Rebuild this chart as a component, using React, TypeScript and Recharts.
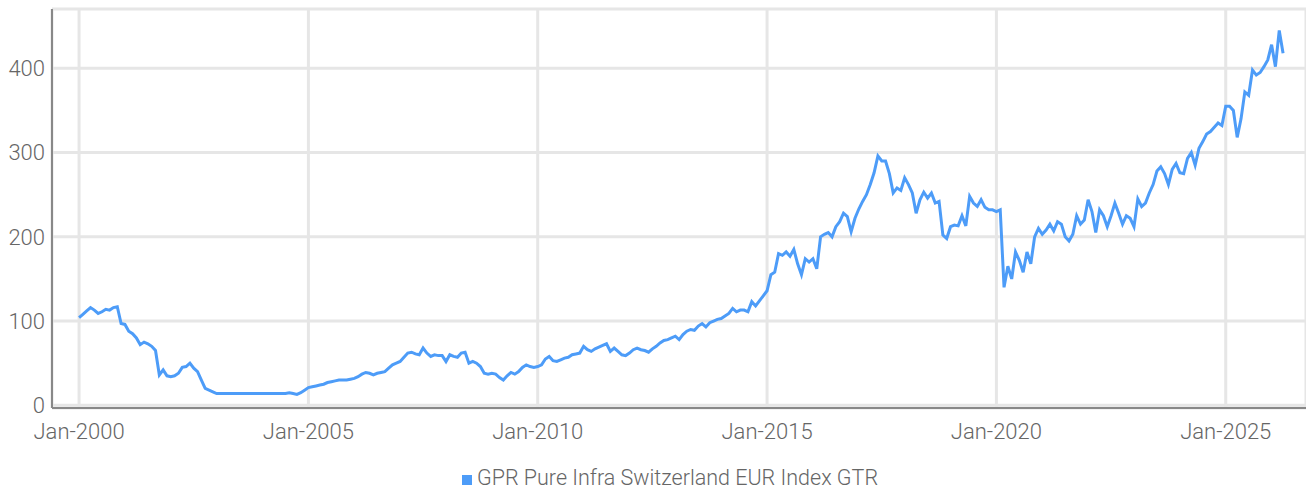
import React from 'react';
import {
  LineChart,
  Line,
  XAxis,
  YAxis,
  CartesianGrid,
  Legend
} from 'recharts';

const SERIES_NAME = 'GPR Pure Infra Switzerland EUR Index GTR';
const START_YEAR = 2000;

// monthly closes, one row per year (Jan..Dec)
const indexValues: number[] = [
  104, 108, 112, 116, 113, 109, 111, 114, 113, 116, 117, 97, // 2000
  96, 88, 85, 80, 72, 75, 73, 70, 65, 36, 42, 35, // 2001
  34, 35, 38, 45, 46, 50, 44, 40, 30, 20, 18, 16, // 2002
  14, 14, 14, 14, 14, 14, 14, 14, 14, 14, 14, 14, // 2003
  14, 14, 14, 14, 14, 14, 14, 15, 14, 13, 15, 18, // 2004
  21, 22, 23, 24, 25, 27, 28, 29, 30, 30, 30, 31, // 2005
  32, 34, 37, 39, 38, 36, 38, 39, 40, 44, 48, 50, // 2006
  52, 57, 62, 63, 61, 60, 68, 62, 58, 60, 59, 59, // 2007
  52, 60, 58, 57, 62, 63, 50, 52, 50, 46, 38, 37, // 2008
  38, 37, 33, 30, 35, 39, 37, 40, 45, 48, 46, 45, // 2009
  46, 48, 55, 58, 53, 52, 54, 56, 57, 60, 61, 62, // 2010
  70, 66, 64, 67, 69, 71, 73, 64, 68, 64, 60, 59, // 2011
  62, 66, 68, 66, 65, 63, 67, 70, 74, 77, 78, 80, // 2012
  82, 78, 84, 88, 90, 89, 94, 97, 93, 98, 100, 102, // 2013
  103, 106, 109, 115, 111, 113, 113, 111, 123, 118, 124, 130, // 2014
  136, 155, 158, 180, 178, 182, 177, 185, 168, 155, 174, 170, // 2015
  174, 162, 200, 203, 205, 200, 212, 218, 228, 224, 206, 222, // 2016
  233, 242, 250, 262, 276, 296, 290, 290, 275, 252, 258, 255, // 2017
  270, 262, 252, 228, 244, 253, 246, 252, 240, 242, 202, 198, // 2018
  212, 214, 213, 225, 213, 248, 240, 236, 244, 235, 232, 232, // 2019
  230, 232, 140, 165, 150, 182, 172, 158, 182, 168, 200, 210, // 2020
  203, 208, 215, 207, 218, 215, 200, 195, 203, 225, 215, 220, // 2021
  244, 230, 205, 232, 225, 212, 225, 240, 228, 215, 225, 222, // 2022
  212, 245, 236, 240, 252, 262, 278, 283, 275, 262, 280, 287, // 2023
  276, 275, 293, 300, 285, 305, 313, 322, 325, 330, 335, 332, // 2024
  355, 355, 350, 318, 340, 372, 368, 398, 392, 395, 402, 410, // 2025
  428, 402, 445, 418 // 2026
];

const xTicks = [2000, 2005, 2010, 2015, 2020, 2025];
const yTicks = [0, 100, 200, 300, 400];

const data = indexValues.map((v, i) => ({
  t: START_YEAR + i / 12,
  value: v
}));

const tickStyle = { fill: '#666666', fontSize: 22, fontFamily: 'Roboto', fontWeight: 300 };

const LegendContent = () => (
  <div
    style={{
      height: 40,
      paddingTop: 16,
      paddingLeft: 34,
      boxSizing: 'border-box',
      display: 'flex',
      justifyContent: 'center',
      alignItems: 'flex-start',
      fontFamily: 'Roboto',
      fontWeight: 300,
      fontSize: 21.5,
      lineHeight: '24px',
      color: '#666666'
    }}
  >
    <span
      style={{
        display: 'inline-block',
        width: 10,
        height: 10,
        background: '#4d9cf8',
        marginRight: 5,
        marginTop: 9
      }}
    />
    <span>{SERIES_NAME}</span>
  </div>
);

export default function App() {
  return (
    <div style={{ width: 1306, height: 490, background: '#ffffff' }}>
      <style>{'body{margin:0}'}</style>
      <LineChart
        width={1306}
        height={490}
        data={data}
        margin={{ top: 9, right: 0, left: 0, bottom: 0 }}
      >
        <CartesianGrid stroke="#e6e6e6" strokeWidth={3} />
        <XAxis
          type="number"
          dataKey="t"
          domain={[1999.41, 2026.75]}
          allowDataOverflow
          ticks={xTicks}
          tickFormatter={(v: number) => `Jan-${Math.round(v)}`}
          tickLine={false}
          tickSize={6}
          tickMargin={9}
          height={42}
          axisLine={{ stroke: '#888888', strokeWidth: 2 }}
          tick={tickStyle}
          interval={0}
        />
        <YAxis
          type="number"
          domain={[-3.2, 470.4]}
          allowDataOverflow
          ticks={yTicks}
          tickLine={false}
          tickSize={6}
          tickMargin={1}
          width={52}
          axisLine={{ stroke: '#888888', strokeWidth: 2 }}
          tick={tickStyle}
          interval={0}
        />
        <Legend verticalAlign="bottom" height={40} content={<LegendContent />} />
        <Line
          name={SERIES_NAME}
          type="linear"
          dataKey="value"
          stroke="#4d9cf8"
          strokeWidth={3}
          dot={false}
          isAnimationActive={false}
        />
      </LineChart>
    </div>
  );
}
